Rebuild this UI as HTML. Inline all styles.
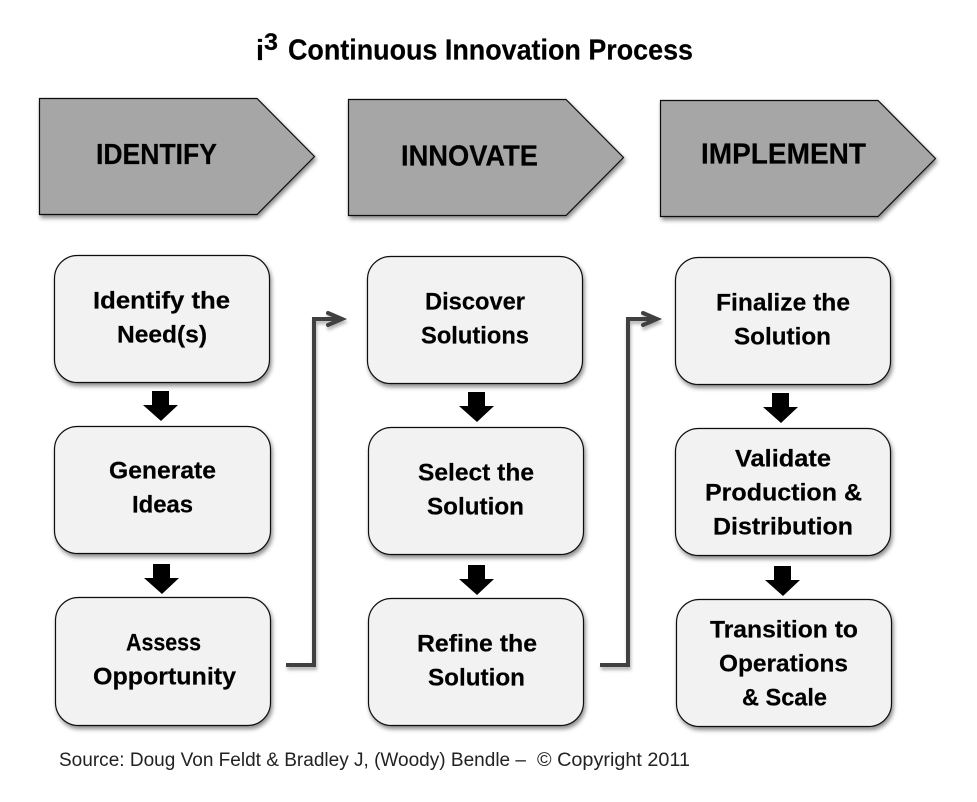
<!DOCTYPE html>
<html>
<head>
<meta charset="utf-8">
<style>
html,body{margin:0;padding:0;background:#fff;width:977px;height:802px;overflow:hidden}
svg{display:block}
text{font-family:"Liberation Sans",sans-serif;fill:#000;font-weight:bold;stroke:#000;stroke-width:.2}
.b{font-size:24px}
.h{font-size:29px}
</style>
</head>
<body>
<svg width="977" height="802" viewBox="0 0 977 802" xmlns="http://www.w3.org/2000/svg">
<defs>
<filter id="s" x="-10%" y="-10%" width="125%" height="125%">
<feDropShadow dx="1.5" dy="3" stdDeviation="2" flood-color="#000" flood-opacity=".45"/>
</filter>
<filter id="l" x="-30%" y="-10%" width="160%" height="125%">
<feDropShadow dx="1" dy="3" stdDeviation="1.5" flood-color="#000" flood-opacity=".3"/>
</filter>
</defs>

<text x="256" y="60" font-size="29" textLength="8" lengthAdjust="spacingAndGlyphs">i</text>
<text x="264" y="50" font-size="24" textLength="14" lengthAdjust="spacingAndGlyphs">3</text>
<text x="288" y="59.5" font-size="29" textLength="405" lengthAdjust="spacingAndGlyphs">Continuous Innovation Process</text>

<g fill="#a6a6a6" stroke="#111" stroke-width="1.2" filter="url(#s)">
<polygon points="39.5,98.5 257,98.5 314.5,156.5 257,214.5 39.5,214.5"/>
<polygon points="348.5,99.5 566,99.5 623.5,157.5 566,215.5 348.5,215.5"/>
<polygon points="660.5,100.5 878,100.5 935.5,158.5 878,216.5 660.5,216.5"/>
</g>
<text class="h" x="96" y="164" textLength="121" lengthAdjust="spacingAndGlyphs">IDENTIFY</text>
<text class="h" x="401" y="165.5" textLength="137" lengthAdjust="spacingAndGlyphs">INNOVATE</text>
<text class="h" x="701" y="163.5" textLength="165" lengthAdjust="spacingAndGlyphs">IMPLEMENT</text>

<g fill="#f2f2f2" stroke="#111" stroke-width="1.2" filter="url(#s)">
<rect x="54.5" y="255.5" width="215" height="127" rx="23"/>
<rect x="54.5" y="426.5" width="216" height="127" rx="23"/>
<rect x="55.5" y="597.5" width="215" height="128" rx="23"/>
<rect x="367.5" y="256.5" width="215" height="127" rx="23"/>
<rect x="368.5" y="427.5" width="215" height="127" rx="23"/>
<rect x="368.5" y="598.5" width="215" height="127" rx="23"/>
<rect x="675.5" y="257.5" width="215" height="127" rx="23"/>
<rect x="675.5" y="428.5" width="215" height="127" rx="23"/>
<rect x="676.5" y="599.5" width="215" height="127" rx="23"/>
</g>

<g>
<text class="b" x="93" y="308.5" textLength="137" lengthAdjust="spacingAndGlyphs">Identify the</text>
<text class="b" x="117" y="342.5" textLength="90" lengthAdjust="spacingAndGlyphs">Need(s)</text>
<text class="b" x="109" y="478.5" textLength="107" lengthAdjust="spacingAndGlyphs">Generate</text>
<text class="b" x="132" y="512.5" textLength="61" lengthAdjust="spacingAndGlyphs">Ideas</text>
<text class="b" x="126" y="650.5" textLength="75" lengthAdjust="spacingAndGlyphs">Assess</text>
<text class="b" x="93" y="684.5" textLength="143" lengthAdjust="spacingAndGlyphs">Opportunity</text>
<text class="b" x="425" y="309.5" textLength="100" lengthAdjust="spacingAndGlyphs">Discover</text>
<text class="b" x="421" y="343.5" textLength="108" lengthAdjust="spacingAndGlyphs">Solutions</text>
<text class="b" x="418" y="480.5" textLength="116" lengthAdjust="spacingAndGlyphs">Select the</text>
<text class="b" x="427" y="514.5" textLength="97" lengthAdjust="spacingAndGlyphs">Solution</text>
<text class="b" x="417" y="651.5" textLength="120" lengthAdjust="spacingAndGlyphs">Refine the</text>
<text class="b" x="428" y="685.5" textLength="97" lengthAdjust="spacingAndGlyphs">Solution</text>
<text class="b" x="716" y="310.5" textLength="134" lengthAdjust="spacingAndGlyphs">Finalize the</text>
<text class="b" x="734" y="344.5" textLength="97" lengthAdjust="spacingAndGlyphs">Solution</text>
<text class="b" x="735" y="466.5" textLength="96" lengthAdjust="spacingAndGlyphs">Validate</text>
<text class="b" x="705" y="500.5" textLength="157" lengthAdjust="spacingAndGlyphs">Production &amp;</text>
<text class="b" x="713" y="534.5" textLength="140" lengthAdjust="spacingAndGlyphs">Distribution</text>
<text class="b" x="710" y="637.5" textLength="148" lengthAdjust="spacingAndGlyphs">Transition to</text>
<text class="b" x="719" y="671.5" textLength="129" lengthAdjust="spacingAndGlyphs">Operations</text>
<text class="b" x="742" y="705.5" textLength="85" lengthAdjust="spacingAndGlyphs">&amp; Scale</text>
</g>

<g fill="#000">
<polygon points="152,391 169,391 169,405 178,405 161,421 143,405 152,405"/>
<polygon points="153,564 170,564 170,578 179,578 162,594 144,578 153,578"/>
<polygon points="468,392 485,392 485,406 494,406 477,422 459,406 468,406"/>
<polygon points="468,565 485,565 485,579 494,579 477,595 459,579 468,579"/>
<polygon points="772,393 789,393 789,407 798,407 781,423 763,407 772,407"/>
<polygon points="774,566 791,566 791,580 800,580 783,596 765,580 774,580"/>
</g>

<g fill="none" stroke="#404040" stroke-width="4" filter="url(#l)">
<path d="M286,665 H314 V319 H341"/>
<path d="M328,313 L342,319 L328,325" stroke-linecap="round"/>
<path d="M600,665 H628 V319 H656"/>
<path d="M643,313 L657,319 L643,325" stroke-linecap="round"/>
</g>

<g style="font-weight:normal">
<text x="59" y="766" font-size="19" textLength="467" lengthAdjust="spacingAndGlyphs" style="font-weight:normal;stroke:none;fill:#222">Source: Doug Von Feldt &amp; Bradley J, (Woody) Bendle –</text>
<text x="537" y="766" font-size="19" textLength="153" lengthAdjust="spacingAndGlyphs" style="font-weight:normal;stroke:none;fill:#222">© Copyright 2011</text>
</g>
</svg>
</body>
</html>
